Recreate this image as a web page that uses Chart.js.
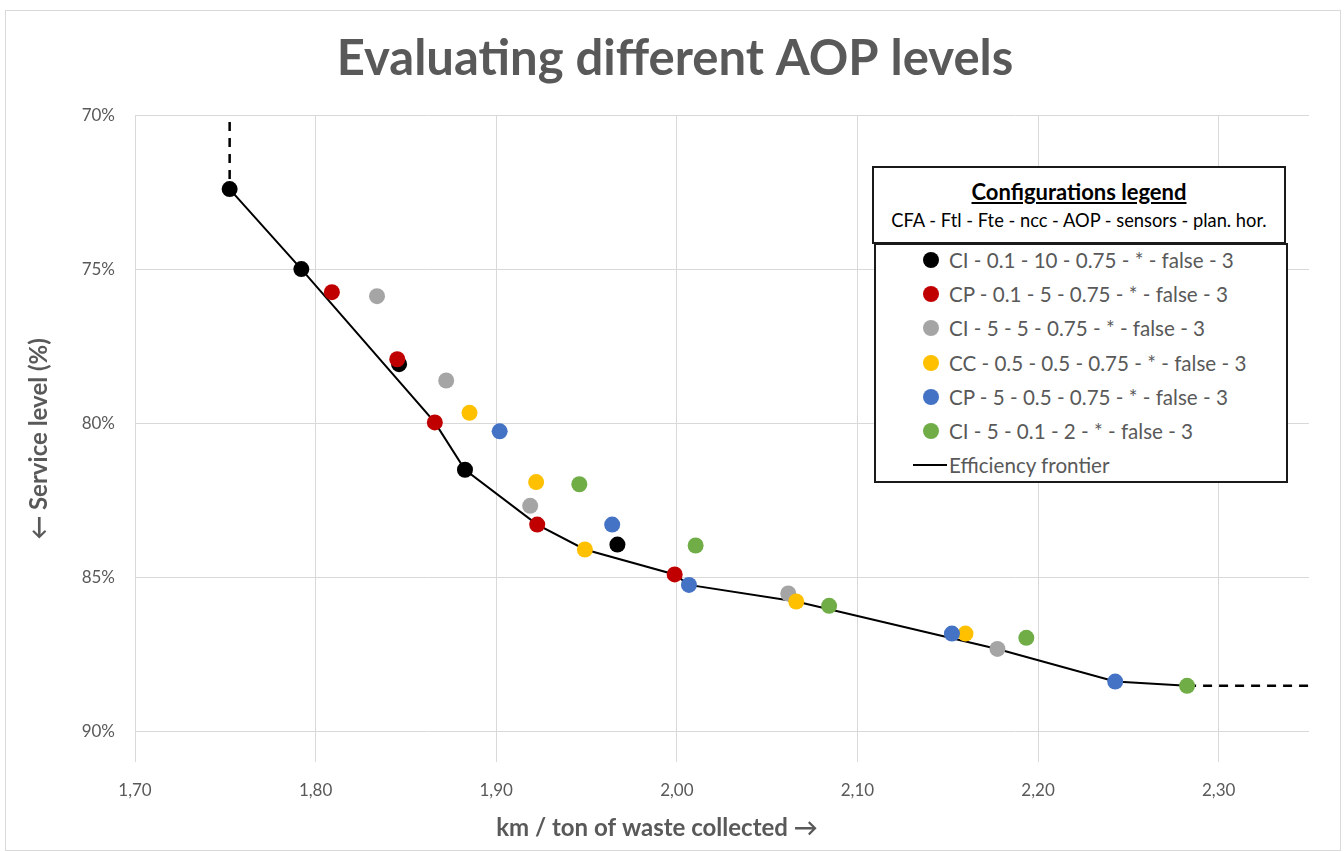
<!DOCTYPE html>
<html>
<head>
<meta charset="utf-8">
<title>Evaluating different AOP levels</title>
<script src="https://cdn.jsdelivr.net/npm/chart.js@4.4.0/dist/chart.umd.min.js"></script>
<style>
    html, body { margin: 0; padding: 0; background: #fff; }
    #contenedor { position: relative; width: 1344px; height: 852px; overflow: hidden; }
    #marco { position: absolute; left: 5px; top: 10px; width: 1336px; height: 841px; border: 1px solid #d9d9d9; box-sizing: border-box; }
    #grafica { position: absolute; left: 0; top: 0; }
    .caja { position: absolute; background: #fff; border: 2px solid #1a1a1a; box-sizing: border-box; font-family: Lato, "Open Sans", sans-serif; }
    #cajaTitulo { left: 872px; top: 166px; width: 414px; height: 78px; text-align: center; color: #000; }
    #cajaTitulo .titulo { position: absolute; left: 0; right: 0; top: 11px; font-weight: bold; font-size: 22px; line-height: 26px; text-decoration: underline; }
    #cajaTitulo .subtitulo { position: absolute; left: 0; right: 0; top: 41px; font-size: 18.3px; line-height: 22px; }
    #cajaItems { left: 874px; top: 243px; width: 414px; height: 240px; }
    .item { position: absolute; left: 0; right: 0; height: 34px; line-height: 34px; font-size: 20.6px; color: #595959; white-space: nowrap; }
    .item .punto { position: absolute; left: 47px; top: 9px; width: 16px; height: 16px; border-radius: 50%; }
    .item .linea { position: absolute; left: 37px; top: 16px; width: 34px; height: 2px; background: #000; }
    .item .texto { position: absolute; left: 73px; top: 0; }
</style>
</head>
<body>
<div id="contenedor">
    <div id="marco"></div>
    <canvas id="grafica" width="1344" height="852"></canvas>
    <div id="cajaTitulo" class="caja">
        <div class="titulo">Configurations legend</div>
        <div class="subtitulo">CFA - Ftl - Fte - ncc - AOP - sensors - plan. hor.</div>
    </div>
    <div id="cajaItems" class="caja"></div>
</div>
<script>
// Valores (km / t  y  nivel de servicio)
const kmCI01 = [1.7524, 1.7921, 1.8462, 1.8827, 1.9671];
const nsCI01 = [0.7238, 0.7498, 0.7807, 0.8150, 0.8393];

const kmCP01 = [1.8090, 1.8452, 1.8660, 1.9227, 1.9988];
const nsCP01 = [0.7573, 0.7791, 0.7996, 0.8328, 0.8490];

const kmCI55 = [1.8340, 1.8723, 1.9188, 2.0617, 2.1775];
const nsCI55 = [0.7586, 0.7860, 0.8267, 0.8552, 0.8732];

const kmCC = [1.8852, 1.9221, 1.9491, 2.0661, 2.1598];
const nsCC = [0.7965, 0.8190, 0.8409, 0.8578, 0.8682];

const kmCP5 = [1.9019, 1.9642, 2.0067, 2.1523, 2.2427];
const nsCP5 = [0.8025, 0.8328, 0.8524, 0.8682, 0.8838];

const kmCI5 = [1.9460, 2.0104, 2.0843, 2.1935, 2.2825];
const nsCI5 = [0.8197, 0.8396, 0.8592, 0.8696, 0.8852];

// Frontera de eficiencia y sus extensiones punteadas
const kmFrontera = [1.7524, 1.7921, 1.8660, 1.8827, 1.9227, 1.9491, 1.9988, 2.0067, 2.0661, 2.1775, 2.2427, 2.2825];
const nsFrontera = [0.7238, 0.7498, 0.7996, 0.8150, 0.8328, 0.8409, 0.8490, 0.8524, 0.8578, 0.8732, 0.8838, 0.8852];
const kmExtArriba = [1.7524, 1.7524];
const nsExtArriba = [0.702, 0.7238];
const kmExtDerecha = [2.2825, 2.35];
const nsExtDerecha = [0.8852, 0.8852];

const etiquetas = [
    'CI - 0.1 - 10 - 0.75 - * - false - 3',
    'CP - 0.1 - 5 - 0.75 - * - false - 3',
    'CI - 5 - 5 - 0.75 - * - false - 3',
    'CC - 0.5 - 0.5 - 0.75 - * - false - 3',
    'CP - 5 - 0.5 - 0.75 - * - false - 3',
    'CI - 5 - 0.1 - 2 - * - false - 3'
];
const colores = ['#000000', '#C00000', '#A5A5A5', '#FFC000', '#4472C4', '#70AD47'];

const ticksX = [1.70, 1.80, 1.90, 2.00, 2.10, 2.20, 2.30];
const ticksY = [0.70, 0.75, 0.80, 0.85, 0.90];

const seriesKm = [kmCI01, kmCP01, kmCI55, kmCC, kmCP5, kmCI5];
const seriesNs = [nsCI01, nsCP01, nsCI55, nsCC, nsCP5, nsCI5];

function aPuntos(xs, ys) {
    return xs.map((x, i) => ({ x: x, y: ys[i] }));
}

const gris = '#595959';
const fuente = 'Lato, "Open Sans", sans-serif';

let datasets = [];

// Series de configuraciones (las últimas quedan encima, como en Excel)
seriesKm.forEach((xs, i) => {
    datasets.push({
        label: etiquetas[i],
        data: aPuntos(xs, seriesNs[i]),
        backgroundColor: colores[i],
        borderWidth: 0,
        pointRadius: 8,
        pointHoverRadius: 8,
        showLine: false,
        order: 6 - i,
        enLeyenda: 'punto'
    });
});

datasets.push({
    label: 'Efficiency frontier',
    data: aPuntos(kmFrontera, nsFrontera),
    borderColor: '#000000',
    borderWidth: 2,
    pointRadius: 0,
    showLine: true,
    tension: 0,
    order: 10,
    enLeyenda: 'linea'
});

[[kmExtArriba, nsExtArriba], [kmExtDerecha, nsExtDerecha]].forEach(par => {
    datasets.push({
        label: '',
        data: aPuntos(par[0], par[1]),
        borderColor: '#000000',
        borderWidth: 2.5,
        borderDash: [9, 7],
        pointRadius: 0,
        showLine: true,
        order: 10,
        clip: false
    });
});

// El título principal va centrado en todo el lienzo, no sólo en la zona con padding
const centrarTitulo = {
    id: 'centrarTitulo',
    afterLayout(chart) {
        if (chart.titleBlock) {
            chart.titleBlock.left = 6;
            chart.titleBlock.right = chart.width;
        }
    }
};

const ctx = document.getElementById('grafica');

const grafica = new Chart(ctx, {
    type: 'scatter',
    data: { datasets: datasets },
    plugins: [centrarTitulo],
    options: {
        responsive: false,
        animation: false,
        events: [],
        layout: { padding: { left: 5, right: 35, top: 0, bottom: 0 } },
        plugins: {
            legend: { display: false },
            tooltip: { enabled: false },
            title: {
                display: true,
                text: 'Evaluating different AOP levels',
                color: gris,
                font: { family: fuente, size: 49, weight: 'bold' },
                padding: { top: 30, bottom: 27 }
            },
            // título del eje X: centrado sobre todo el gráfico, como en Excel
            subtitle: {
                display: true,
                position: 'bottom',
                text: 'km / ton of waste collected →',
                color: gris,
                font: { family: fuente, size: 24, weight: 'bold' },
                padding: { top: 0, bottom: 9 }
            }
        },
        scales: {
            x: {
                type: 'linear',
                min: 1.70,
                max: 2.35,
                afterBuildTicks: axis => { axis.ticks = ticksX.map(v => ({ value: v })); },
                afterFit: scale => { scale.height = 52; },
                grid: { color: '#d9d9d9', lineWidth: 1, drawTicks: false },
                border: { display: false },
                ticks: {
                    color: gris,
                    padding: 18,
                    font: { family: fuente, size: 17 },
                    callback: v => v.toFixed(2).replace('.', ',')
                }
            },
            y: {
                type: 'linear',
                reverse: true,
                min: 0.70,
                max: 0.91,
                afterBuildTicks: axis => { axis.ticks = ticksY.map(v => ({ value: v })); },
                afterFit: scale => { scale.width = 130; },
                grid: { color: '#d9d9d9', lineWidth: 1, drawTicks: false },
                border: { display: false },
                ticks: {
                    color: gris,
                    padding: 20,
                    font: { family: fuente, size: 17 },
                    callback: v => Math.round(v * 100) + '%'
                },
                title: {
                    display: true,
                    text: '← Service level (%)',
                    color: gris,
                    font: { family: fuente, size: 24, weight: 'bold' },
                    padding: { top: 20, bottom: 0 }
                }
            }
        }
    }
});

// Leyenda en HTML construida a partir de los datasets de la gráfica
function construirLeyenda(chart) {
    const caja = document.getElementById('cajaItems');
    caja.innerHTML = '';
    let fila = 0;
    chart.data.datasets.forEach(ds => {
        if (!ds.enLeyenda) return;
        const item = document.createElement('div');
        item.className = 'item';
        item.style.top = (fila * 34.2 - 2) + 'px';
        const marca = document.createElement('span');
        if (ds.enLeyenda === 'punto') {
            marca.className = 'punto';
            marca.style.background = ds.backgroundColor;
        } else {
            marca.className = 'linea';
        }
        const texto = document.createElement('span');
        texto.className = 'texto';
        texto.textContent = ds.label;
        item.appendChild(marca);
        item.appendChild(texto);
        caja.appendChild(item);
        fila++;
    });
}

construirLeyenda(grafica);
</script>
</body>
</html>
